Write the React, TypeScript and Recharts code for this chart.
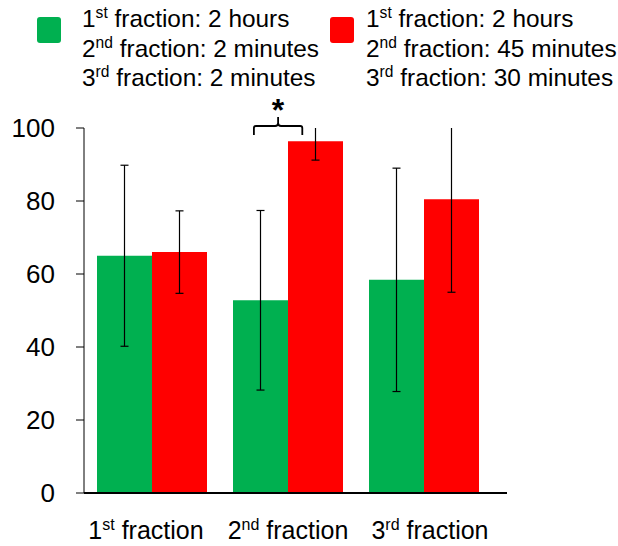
import React from 'react';
import { BarChart, Bar, XAxis, YAxis, LabelList } from 'recharts';

const fractions = ['1st fraction', '2nd fraction', '3rd fraction'];
const shortRest = [65.0, 52.8, 58.4];
const shortRestErr = [24.8, 24.6, 30.6];
const longRest = [66.0, 96.4, 80.5];
const longRestErr = [11.3, 5.2, 25.5];
const yTicks = [0, 20, 40, 60, 80, 100];
const shortLegend = ['1st fraction: 2 hours', '2nd fraction: 2 minutes', '3rd fraction: 2 minutes'];
const longLegend = ['1st fraction: 2 hours', '2nd fraction: 45 minutes', '3rd fraction: 30 minutes'];

const GREEN = '#00b050';
const RED = '#ff0000';
const FONT = '"Liberation Sans", Arial, sans-serif';
const Y_MAX = yTicks[yTicks.length - 1];

const data = fractions.map((name, i) => ({
  name,
  short: shortRest[i],
  long: longRest[i],
}));

const splitOrdinal = (text: string) => {
  const m = text.match(/^(\d+)(st|nd|rd|th)(.*)$/);
  return m ? [m[1], m[2], m[3]] : [text, '', ''];
};

// "1st fraction" with a raised suffix, for svg text
const SvgOrdinal = ({ text, size }: { text: string; size: number }) => {
  const [num, suf, rest] = splitOrdinal(text);
  const lift = size * 0.36;
  return (
    <>
      <tspan>{num}</tspan>
      <tspan fontSize={size * 0.64} dy={-lift}>{suf}</tspan>
      <tspan dy={lift}>{rest}</tspan>
    </>
  );
};

const HtmlOrdinal = ({ text }: { text: string }) => {
  const [num, suf, rest] = splitOrdinal(text);
  return (
    <div style={{ whiteSpace: 'nowrap' }}>
      {num}
      <span style={{ fontSize: '0.64em', lineHeight: 0, position: 'relative', top: '-0.55em' }}>{suf}</span>
      {rest}
    </div>
  );
};

// category labels sit a little wider apart than the bar groups
const FractionTick = (props: any) => {
  const { x, y, payload } = props;
  const spread = (payload.index - 1) * 6;
  return (
    <text x={x + spread} y={y} dy={18} textAnchor="middle" fontSize={25} fontFamily={FONT} fill="#000">
      <SvgOrdinal text={payload.value} size={25} />
    </text>
  );
};

// geometry of a bar label: pixel y of any value, from the bar's own scale
const barScale = (props: any) => {
  const vb = props.viewBox ?? props;
  const { x, y, width, height } = vb;
  const perUnit = height / props.value;
  const base = y + height;
  return { x, width, toY: (v: number) => base - v * perUnit };
};

// error whisker, cut off at the top of the value axis
const ErrorWhisker = (props: any) => {
  const { errs, index, value } = props;
  const { x, width, toY } = barScale(props);
  const cx = x + width / 2;
  const lo = value - errs[index];
  const hi = value + errs[index];
  const yLo = toY(Math.max(lo, 0));
  const yHi = toY(Math.min(hi, Y_MAX));
  const cap = 4;
  return (
    <g stroke="#000" strokeWidth={1.2}>
      <line x1={cx} x2={cx} y1={yLo} y2={yHi} />
      {lo >= 0 && <line x1={cx - cap} x2={cx + cap} y1={yLo} y2={yLo} />}
      {hi <= Y_MAX && <line x1={cx - cap} x2={cx + cap} y1={yHi} y2={yHi} />}
    </g>
  );
};

// curly bracket with an asterisk over the 2nd fraction pair
const SignificanceMark = (props: any) => {
  if (props.index !== 1) return null;
  const { x, width, toY } = barScale(props);
  const top = toY(Y_MAX);
  const cx = x + width * 0.82;
  const half = width * 0.44;
  const legY = top + 7;
  const barY = top - 2;
  const d = `M${cx - half},${legY} L${cx - half},${barY + 2} Q${cx - half},${barY} ${cx - half + 2},${barY}
    L${cx - 3},${barY} Q${cx},${barY} ${cx},${barY - 3} L${cx},${barY - 9}
    M${cx},${barY - 3} Q${cx},${barY} ${cx + 3},${barY} L${cx + half - 2},${barY}
    Q${cx + half},${barY} ${cx + half},${barY + 2} L${cx + half},${legY}`;
  return (
    <g>
      <path d={d} fill="none" stroke="#000" strokeWidth={1.8} />
      <text
        x={cx}
        y={top - 7}
        textAnchor="middle"
        fontSize={32}
        fontWeight="bold"
        fontFamily={FONT}
        fill="#000"
      >
        *
      </text>
    </g>
  );
};

const LegendBlock = ({ color, lines, left, gap }: { color: string; lines: string[]; left: number; gap: number }) => (
  <div style={{ position: 'absolute', left, top: 0 }}>
    <div
      style={{
        position: 'absolute',
        left: 0,
        top: 17,
        width: 24,
        height: 26,
        borderRadius: 3,
        background: color,
      }}
    />
    <div
      style={{
        position: 'absolute',
        left: gap,
        top: 4,
        fontSize: 24.4,
        lineHeight: '29.5px',
        fontFamily: FONT,
        color: '#000',
      }}
    >
      {lines.map((l) => (
        <HtmlOrdinal key={l} text={l} />
      ))}
    </div>
  </div>
);

export default function App() {
  return (
    <div style={{ position: 'absolute', left: 0, top: 0, width: 618, height: 546, background: '#fff' }}>
      <LegendBlock color={GREEN} lines={shortLegend} left={37} gap={45} />
      <LegendBlock color={RED} lines={longLegend} left={330} gap={36} />
      <BarChart
        width={618}
        height={546}
        data={data}
        margin={{ top: 128, right: 111, bottom: 0, left: 0 }}
        barCategoryGap={13}
        barGap={0}
      >
        <XAxis
          dataKey="name"
          height={53}
          tick={<FractionTick />}
          tickLine={false}
          tickSize={0}
          tickMargin={28}
          axisLine={{ stroke: '#000', strokeWidth: 2 }}
          padding={{ left: 0, right: 15 }}
          interval={0}
        />
        <YAxis
          width={84}
          domain={[0, Y_MAX]}
          ticks={yTicks}
          allowDataOverflow
          interval={0}
          tickSize={8}
          tickMargin={21}
          tick={{ fontSize: 26, fontFamily: FONT, fill: '#000' }}
          tickLine={{ stroke: '#000' }}
          axisLine={{ stroke: '#000' }}
        />
        <Bar dataKey="short" fill={GREEN} isAnimationActive={false}>
          <LabelList dataKey="short" content={<ErrorWhisker errs={shortRestErr} />} />
          <LabelList dataKey="short" content={<SignificanceMark />} />
        </Bar>
        <Bar dataKey="long" fill={RED} isAnimationActive={false}>
          <LabelList dataKey="long" content={<ErrorWhisker errs={longRestErr} />} />
        </Bar>
      </BarChart>
    </div>
  );
}
